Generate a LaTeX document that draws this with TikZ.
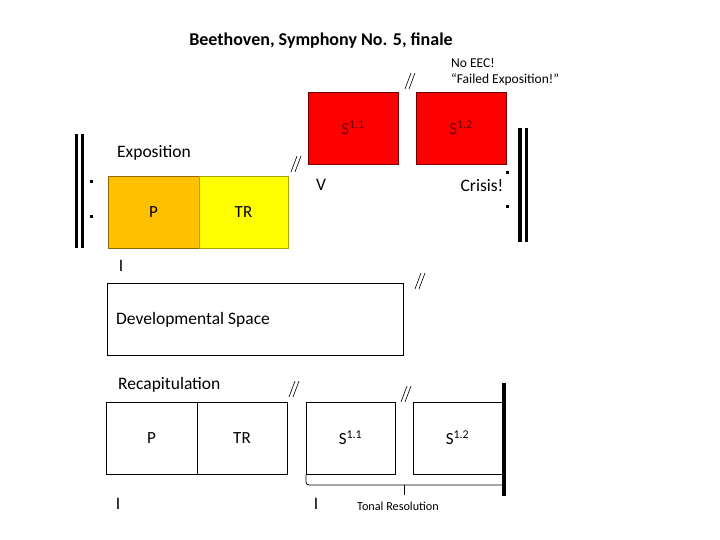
\documentclass[tikz,border=0pt]{standalone}
\usepackage{fontspec}
\setmainfont{Carlito}

\definecolor{porange}{HTML}{FFC000}
\definecolor{tryellow}{HTML}{FFFF00}
\definecolor{sred}{HTML}{FF0000}
\definecolor{sdark}{HTML}{6A0000}

\tikzset{
  zone/.style={draw, line width=0.8pt, minimum width=90pt, minimum height=72pt, inner sep=0pt, font=\fontsize{17}{19}\selectfont},
  lbl/.style={font=\fontsize{17.5}{19}\selectfont, inner sep=0pt},
  small/.style={font=\fontsize{13.5}{15}\selectfont, inner sep=0pt, anchor=west},
  repbar/.style={line width=3.5pt},
  dot/.style={fill=black, minimum size=3pt, inner sep=0pt}
}

% double slash mark
\newcommand{\dslash}[2]{%
  \draw[line width=0.6pt] (#1-5,#2+8) -- (#1+1,#2-8);
  \draw[line width=0.6pt] (#1-1,#2+8) -- (#1+5,#2-8);}

\begin{document}
\begin{tikzpicture}[x=1pt,y=-1pt]
\useasboundingbox (0,0) rectangle (720,540);

\node[lbl, font=\fontsize{18}{20}\selectfont\bfseries] (title) at (321,41) {Beethoven, Symphony No. 5, finale};

% exposition
\node[small] (noeec) at (451,63) {No EEC!};
\node[small] (failed) at (451,80) {“Failed Exposition!”};
\node[lbl, anchor=west] (expo) at (117,153) {Exposition};
\node[zone, fill=porange, draw=black!45!porange, minimum width=91pt] (expP) at (153.5,212) {P};
\node[zone, fill=tryellow, draw=black!35!tryellow, minimum width=89pt] (expTR) at (243.5,212) {TR};
\node[zone, fill=sred, draw=black!55!sred, text=sdark] (expS1) at (353,128) {S\textsuperscript{1.1}};
\node[zone, fill=sred, draw=black!55!sred, text=sdark] (expS2) at (461,128) {S\textsuperscript{1.2}};
\node[lbl] (five) at (321,185) {V};
\node[lbl] (crisis) at (482,186) {Crisis!};
\node[lbl] (oneA) at (121,266) {I};

% repeat signs
\draw[repbar] (76.5,134) -- (76.5,248);
\draw[repbar] (82.3,134) -- (82.3,248);
\node[dot] (lup) at (91,182) {};
\node[dot] (llo) at (91,217) {};
\draw[repbar] (520,128) -- (520,242);
\draw[repbar] (526.3,128) -- (526.3,242);
\node[dot] (rup) at (507,173) {};
\node[dot] (rlo) at (507,207) {};

% development
\node[zone, minimum width=296pt] (dev) at (255,319) {};
\node[lbl, anchor=west] (devlbl) at (116,320) {Developmental Space};

% recapitulation
\node[lbl, anchor=west] (recap) at (118,385) {Recapitulation};
\node[zone, minimum width=91pt] (recP) at (151.5,438) {P};
\node[zone, minimum width=90pt] (recTR) at (242,438) {TR};
\node[zone, minimum width=89pt] (recS1) at (350.5,438) {S\textsuperscript{1.1}};
\node[zone, minimum width=89pt] (recS2) at (457.5,438) {S\textsuperscript{1.2}};
\draw[line width=4pt] (504,383) -- (504,496);
\draw[line width=0.8pt, rounded corners=3pt] (306,475) -- (306,485) -- (503,485);
\draw[line width=0.8pt] (404,485) -- (404,495);
\node[font=\fontsize{12.2}{14}\selectfont, inner sep=0pt] (tonal) at (398,506) {Tonal Resolution};
\node[lbl] (oneB) at (118,504) {I};
\node[lbl] (oneC) at (316,504) {I};

% slash marks
\dslash{410}{81}
\dslash{296}{164}
\dslash{420}{281}
\dslash{294}{389}
\dslash{406}{394}
\end{tikzpicture}
\end{document}
